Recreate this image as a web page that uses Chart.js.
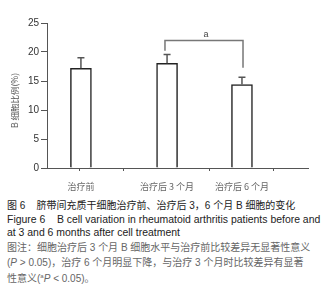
<!DOCTYPE html>
<html>
<head>
<meta charset="utf-8">
<script src="https://cdn.jsdelivr.net/npm/chart.js@4/dist/chart.umd.min.js"></script>
<style>
  html, body { margin: 0; padding: 0; background: #fff; }
  body { width: 324px; height: 300px; position: relative; overflow: hidden; }
  #wrap { position: absolute; left: 0; top: 0; width: 324px; height: 195px; }
  #cap { position: absolute; left: 7px; top: 198px; width: 320px;
         font-family: "Liberation Sans", "Noto Sans CJK SC", sans-serif; font-size: 10px; line-height: 13.7px; color: #222; }
  #cap div { white-space: nowrap; }
  #cap .en { font-size: 10.45px; }
  #cap .note { color: #666; font-size: 10px; }
  .zh { font-family: "Noto Sans CJK SC", sans-serif; }
</style>
</head>
<body>
<div id="wrap"><canvas id="c" width="324" height="195"></canvas></div>
<div id="cap">
  <div><span class="zh">图</span> 6&nbsp;&nbsp;&nbsp;&nbsp;<span class="zh">脐带间充质干细胞治疗前、治疗后</span> 3<span class="zh">，</span>6 <span class="zh">个月</span> B <span class="zh">细胞的变化</span></div>
  <div class="en">Figure 6&nbsp;&nbsp;&nbsp; B cell variation in rheumatoid arthritis patients before and</div>
  <div class="en">at 3 and 6 months after cell treatment</div>
  <div class="note"><span class="zh">图注：细胞治疗后</span> 3 <span class="zh">个月</span> B <span class="zh">细胞水平与治疗前比较差异无显著性意义</span></div>
  <div class="note">(<i>P</i> &gt; 0.05)<span class="zh">，治疗</span> 6 <span class="zh">个月明显下降，与治疗</span> 3 <span class="zh">个月时比较差异有显著</span></div>
  <div class="note"><span class="zh">性意义</span>(<sup style="font-size:6px">a</sup><i>P</i> &lt; 0.05)<span class="zh">。</span></div>
</div>
<script>
// ---- data ----
const categories = ["治疗前", "治疗后 3 个月", "治疗后 6 个月"];
const categoryPositions = [1.3, 4.6, 7.47];       // group positions along the x axis (0-10)
const meanValues = [17.2, 18.05, 14.4];            // B 细胞比例 (%)
const sdValues = [1.8, 1.5, 1.25];                 // upper error bar
const xTickPositions = [1.24, 2.92, 6.22, 8.66];   // x axis tick marks
const yTicks = [0, 5, 10, 15, 20, 25];
const bracketX = [4.52, 7.51];                     // significance bracket ends
const bracketLevels = [22.0, 20.2, 17.3];          // top, left foot, right foot
const bracketLabel = "a";
const yTitle = "B 细胞比例(%)";

const barData = categoryPositions.map((p, i) => ({ x: p, y: meanValues[i] }));

const annotations = {
  id: 'annotations',
  afterDatasetsDraw(chart) {
    const { ctx, scales: { x, y } } = chart;
    ctx.save();
    ctx.strokeStyle = '#555';
    ctx.lineWidth = 1.5;
    categoryPositions.forEach((p, i) => {
      const px = x.getPixelForValue(p);
      const y0 = y.getPixelForValue(meanValues[i]);
      const y1 = y.getPixelForValue(meanValues[i] + sdValues[i]);
      ctx.beginPath();
      ctx.moveTo(px, y0); ctx.lineTo(px, y1);
      ctx.moveTo(px - 3.5, y1); ctx.lineTo(px + 3.5, y1);
      ctx.stroke();
    });
    const bx0 = x.getPixelForValue(bracketX[0]);
    const bx1 = x.getPixelForValue(bracketX[1]);
    const by = y.getPixelForValue(bracketLevels[0]);
    const byl = y.getPixelForValue(bracketLevels[1]);
    const byr = y.getPixelForValue(bracketLevels[2]);
    ctx.strokeStyle = '#777';
    ctx.lineWidth = 1.5;
    ctx.beginPath();
    ctx.moveTo(bx0, byl); ctx.lineTo(bx0, by); ctx.lineTo(bx1, by); ctx.lineTo(bx1, byr);
    ctx.stroke();
    ctx.fillStyle = '#444';
    ctx.font = '9px "Liberation Sans", sans-serif';
    ctx.textAlign = 'center';
    ctx.textBaseline = 'bottom';
    ctx.fillText(bracketLabel, (bx0 + bx1) / 2 + 2, by - 1);
    ctx.save();
    ctx.translate(15, (y.top + y.bottom) / 2 + 5);
    ctx.rotate(-Math.PI / 2);
    ctx.fillStyle = '#555';
    ctx.font = '8.5px "Noto Sans CJK SC", sans-serif';
    ctx.textAlign = 'center';
    ctx.textBaseline = 'middle';
    ctx.fillText(yTitle, 0, 0);
    ctx.restore();
    ctx.restore();
  }
};

new Chart(document.getElementById('c'), {
  type: 'bar',
  data: { datasets: [{ data: barData, backgroundColor: '#ffffff', borderColor: '#222', borderWidth: 1.5, barThickness: 21 }] },
  options: {
    responsive: false, animation: false, events: [],
    layout: { padding: { left: 0, right: 16, top: 23, bottom: 0 } },
    plugins: { legend: { display: false }, tooltip: { enabled: false } },
    scales: {
      x: {
        type: 'linear', position: 'bottom', min: 0, max: 10, weight: 0, offset: false,
        afterBuildTicks(s) { s.ticks = xTickPositions.map(v => ({ value: v })); },
        afterFit(s) { s.height = 4; },
        ticks: { display: false },
        grid: { drawOnChartArea: false, offset: false, tickLength: 3, color: '#555' },
        border: { color: '#555', width: 1 }
      },
      xl: {
        type: 'linear', position: 'bottom', min: 0, max: 10, weight: 1, offset: false,
        afterBuildTicks(s) { s.ticks = categoryPositions.map(v => ({ value: v })); },
        afterFit(s) { s.height = 23; },
        ticks: { autoSkip: false, maxRotation: 0, padding: 1, color: '#666',
          font: { family: '"Noto Sans CJK SC", sans-serif', size: 9 },
          callback(v, i) { return categories[i]; } },
        grid: { display: false }, border: { display: false }
      },
      y: {
        min: 0, max: 25,
        afterBuildTicks(s) { s.ticks = yTicks.map(v => ({ value: v })); },
        afterFit(s) { s.width = 47; },
        ticks: { color: '#333', padding: 2, font: { family: '"Liberation Sans", sans-serif', size: 10 } },
        grid: { drawOnChartArea: false, tickLength: 6, color: '#555' },
        border: { color: '#555', width: 1 }
      }
    }
  },
  plugins: [annotations]
});
</script>
</body>
</html>
